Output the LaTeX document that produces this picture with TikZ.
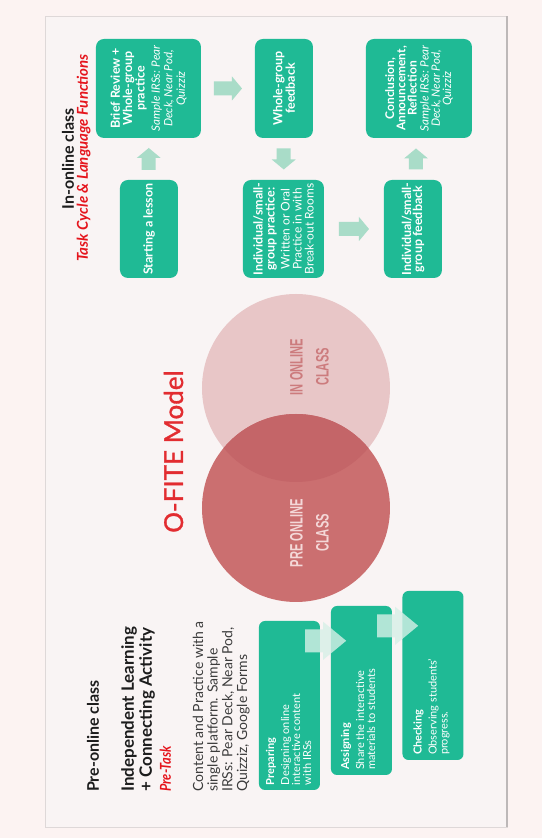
\documentclass[tikz,border=0pt]{standalone}
\usepackage{fontspec}
\setmainfont{Lato}
\newfontfamily\circlefont[FakeStretch=0.62]{Liberation Sans}
\newfontfamily\tasklabelfont[FakeStretch=0.85]{Lato}
\newfontfamily\modelfont[FakeBold=1.2]{Lato}
\usetikzlibrary{calc}

\definecolor{pagebg}{HTML}{FCF3F2}
\definecolor{panelbg}{HTML}{F9F4F4}
\definecolor{panelline}{HTML}{DED8D8}
\definecolor{paneledge}{HTML}{BDB8B8}
\definecolor{boxgreen}{HTML}{1FBA95}
\definecolor{mintarrow}{HTML}{A9DCC8}
\definecolor{palearrow}{HTML}{D6F0E7}
\definecolor{circlelight}{HTML}{E8C6C7}
\definecolor{circledark}{HTML}{CB6F70}
\definecolor{circlemix}{HTML}{C46568}
\definecolor{intext}{HTML}{CC7B7D}
\definecolor{pretext}{HTML}{F4D8D8}
\definecolor{titlered}{HTML}{E22C30}
\definecolor{accentred}{HTML}{E5141C}
\definecolor{ink}{HTML}{1C1C1C}
\definecolor{bodyink}{HTML}{3C3C3C}

\tikzset{
  inbox/.style={fill=boxgreen, rounded corners=8pt, minimum width=99pt,
    text=white, align=center, inner sep=2pt,
    font=\fontsize{12.5}{12.4}\selectfont},
  prebox/.style={fill=boxgreen, rounded corners=6pt, minimum width=169pt,
    minimum height=61pt, inner sep=0pt},
  pretxt/.style={text=white, align=left, inner sep=0pt, anchor=north west,
    font=\fontsize{11}{11}\selectfont},
  heading/.style={inner sep=0pt, text=ink, font=\bfseries\fontsize{16}{19}\selectfont},
  circlelabel/.style={align=center, inner sep=0pt,
    font=\circlefont\bfseries\fontsize{18}{26}\selectfont},
  pics/inarr/.style={code={
    \fill[mintarrow] ({-#1/2},-7) -- ({#1/2-10},-7) -- ({#1/2-10},-12)
      -- ({#1/2},0) -- ({#1/2-10},12) -- ({#1/2-10},7) -- ({-#1/2},7) -- cycle;}},
  pics/prearr/.style={code={
    \fill[palearrow, fill opacity=0.8] (0,-11.5) -- (18,-11.5) -- (18,-19)
      -- (41,0) -- (18,19) -- (18,11.5) -- (0,11.5) -- cycle;}},
}
\newcommand{\smallital}[1]{{\fontsize{11.5}{12.4}\selectfont\itshape #1}}

\begin{document}
\begin{tikzpicture}[x=1pt,y=1pt]
\useasboundingbox (-542,0) rectangle (0,838);
\fill[pagebg] (-542,0) rectangle (0,838);

% the slide is laid out landscape and turned a quarter turn
\begin{scope}[rotate=90, transform shape]

% panel
\fill[panelbg, draw=panelline, line width=0.8pt] (11,35) rectangle (822,497);
\draw[paneledge, line width=1.4pt] (11,35) -- (822,35);

% ---------- pre-online class ----------
\node[heading, anchor=base west] (prehead) at (46,443) {Pre-online class};
\node[heading, anchor=base west, font=\bfseries\fontsize{17}{18}\selectfont] (indep1) at (46,408) {Independent Learning};
\node[heading, anchor=base west, font=\bfseries\fontsize{17}{18}\selectfont] (indep2) at (46,390) {+ Connecting Activity};
\node[inner sep=0pt, anchor=base west, text=accentred,
      font=\tasklabelfont\bfseries\itshape\fontsize{15}{16}\selectfont] (pretask) at (46,371) {Pre-Task};
\node[anchor=north west, align=left, inner sep=0pt, text=bodyink,
      font=\fontsize{14}{14.7}\selectfont] (body) at (46,349.5)
  {Content and Practice with a\\single platform. Sample\\IRSs: Pear Deck, Near Pod,\\Quizziz, Google Forms};

\node[prebox] (prep) at (132.5,252.5) {};
\node[prebox] (assign) at (147.5,180.5) {};
\coordinate (p1) at ($(prep.south east)+(-20,15)$);
\pic[rotate=-90] at (p1) {prearr};
\node[prebox] (check) at (162.5,109) {};
\coordinate (p2) at ($(assign.south east)+(-20,15)$);
\pic[rotate=-90] at (p2) {prearr};

\node[pretxt] (preptxt) at ($(prep.north west)+(5,-7)$)
  {\textbf{Preparing}\\[4pt]Designing online\\interactive content\\with IRSs};
\node[pretxt] (assigntxt) at ($(assign.north west)+(5,-10)$)
  {\textbf{Assigning}\\[4pt]Share the interactive\\materials to students};
\node[pretxt] (checktxt) at ($(check.north west)+(5,-11)$)
  {\textbf{Checking}\\[4pt]Observing students'\\progress.};

% ---------- model ----------
\node[circle, minimum size=188pt, inner sep=0pt, fill=circlelight] (incirc) at (450,246) {};
\node[circle, minimum size=188pt, inner sep=0pt, fill=circledark] (precirc) at (330,246) {};
\begin{scope}
  \clip (450,246) circle (94);
  \fill[circlemix] (330,246) circle (94);
\end{scope}
\node[circlelabel, text=intext] (inlabel) at (471,232.5) {IN ONLINE\\CLASS};
\node[circlelabel, text=pretext] (prelabel) at (305,232.5) {PRE ONLINE\\CLASS};
\node[anchor=base west, inner sep=0pt, text=titlered,
      font=\modelfont\fontsize{26}{30}\selectfont] (model) at (305,359) {O-FITE Model};

% ---------- in-online class ----------
\node[heading, anchor=base] (inhead) at (679,468) {In-online class};
\node[inner sep=0pt, anchor=base, text=accentred,
      font=\bfseries\itshape\fontsize{15}{16}\selectfont] (taskhead) at (680,454)
  {Task Cycle \& Language Functions};

\node[inbox, minimum height=105pt] (brief) at (749.5,393.5)
  {\textbf{Brief Review +}\\\textbf{Whole-group}\\\textbf{practice}\\[3pt]
   \smallital{Sample IRSs: Pear}\\\smallital{Deck, Near Pod,}\\\smallital{Quizziz}};
\node[inbox, minimum height=58pt] (wgfb) at (749.5,258)
  {\textbf{Whole-group}\\\textbf{feedback}};
\node[inbox, minimum height=106pt, font=\fontsize{12}{11.2}\selectfont] (concl) at (749.5,123)
  {\textbf{Conclusion,}\\\textbf{Announcement,}\\\textbf{Reflection}\\[1pt]
   \smallital{Sample IRSs: Pear}\\\smallital{Deck, Near Pod,}\\\smallital{Quizziz}};
\node[inbox, minimum width=98pt, minimum height=58pt] (start) at (609,393)
  {\textbf{Starting a lesson}};
\node[inbox, minimum width=98pt, minimum height=81pt, font=\fontsize{12.5}{12}\selectfont] (ipract) at (609,258.5)
  {\textbf{Individual/small-}\\\textbf{group practice:}\\[3pt]
   {\fontsize{12}{10.8}\selectfont Written or Oral}\\
   {\fontsize{12}{10.8}\selectfont Practice in with}\\
   {\fontsize{12}{10.8}\selectfont Break-out Rooms}};
\node[inbox, minimum width=98pt, minimum height=58pt, font=\fontsize{12.5}{11}\selectfont] (ifb) at (609,129)
  {\textbf{Individual/small-}\\\textbf{group feedback}};

% task cycle arrows
\path (start.east) -- (brief.west) coordinate[midway] (a1);
\pic at (a1) {inarr=22};
\path (brief.south) -- (wgfb.north) coordinate[midway] (a2);
\pic[rotate=-90] at (a2) {inarr=28};
\path (wgfb.west) -- (ipract.east) coordinate[midway] (a3);
\pic[rotate=180] at (a3) {inarr=21};
\path (ipract.south) -- (ifb.north) coordinate[midway] (a4);
\pic[rotate=-90] at (a4) {inarr=30};
\path (ifb.east) -- (concl.west) coordinate[midway] (a5);
\pic at (a5) {inarr=21};

\end{scope}
\end{tikzpicture}
\end{document}
